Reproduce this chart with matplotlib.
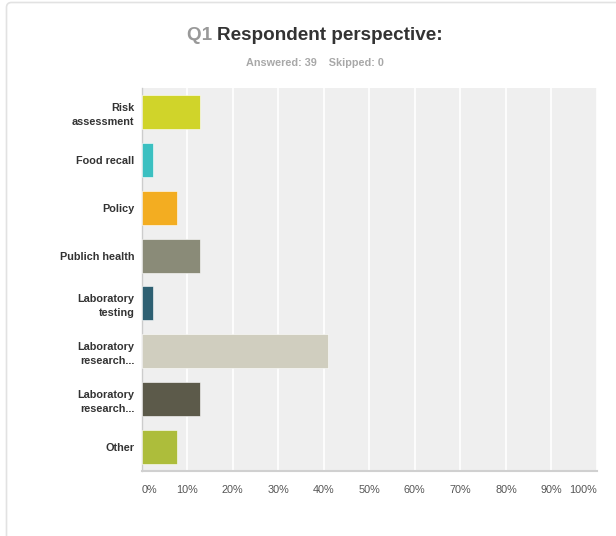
import matplotlib
matplotlib.use("Agg")
import matplotlib.pyplot as plt
from matplotlib.patches import FancyBboxPatch
from matplotlib.transforms import IdentityTransform
from matplotlib.ticker import FuncFormatter

plt.rcParams['font.family'] = ['Liberation Sans', 'DejaVu Sans']

# Survey question Q1: share of the 39 respondents per perspective
categories = [
    "Risk\nassessment",
    "Food recall",
    "Policy",
    "Publich health",
    "Laboratory\ntesting",
    "Laboratory\nresearch...",
    "Laboratory\nresearch...",
    "Other",
]
percentages = [12.82, 2.56, 7.69, 12.82, 2.56, 41.03, 12.82, 7.69]
bar_colors = ["#d0d42a", "#3bc0c1", "#f3ad21", "#8a8b78", "#2e6072",
              "#d0cebf", "#5c5a4a", "#adbd3b"]
x_ticks = [0, 10, 20, 30, 40, 50, 60, 70, 80, 90, 100]
answered = 39
skipped = 0

W, H = 616, 536
fig = plt.figure(figsize=(W / 100, H / 100), dpi=100)
fig.patch.set_facecolor("white")

# Card outline with a rounded top-left corner
card = FancyBboxPatch((6.5, -50), 800, H - 2.5 + 50,
                      boxstyle="round,pad=0,rounding_size=5",
                      transform=IdentityTransform(), facecolor="none",
                      edgecolor="#e2e2e2", linewidth=1.2, clip_on=False)
fig.add_artist(card)

left, right, top, bottom = 141.5, 597, 88, 471
ax = fig.add_axes([left / W, 1 - bottom / H, (right - left) / W, (bottom - top) / H])
ax.set_facecolor("#efefef")

y = list(range(len(categories)))
ax.barh(y, percentages, height=0.71, color=bar_colors,
        edgecolor="white", linewidth=0.4, zorder=3)
ax.set_ylim(len(categories) - 0.5, -0.5)
ax.set_xlim(0, 100)

ax.set_xticks(x_ticks)
ax.xaxis.set_major_formatter(FuncFormatter(lambda v, p: f"{int(v)}%"))
ax.grid(axis="x", color="white", linewidth=1.2, zorder=1)
ax.set_axisbelow(True)

for s in ["top", "right"]:
    ax.spines[s].set_visible(False)
ax.spines["left"].set_color("#cccccc")
ax.spines["bottom"].set_color("#d0d0d0")
ax.spines["left"].set_linewidth(1.0)
ax.spines["bottom"].set_linewidth(1.5)

ax.tick_params(axis="x", length=0, pad=10, labelsize=7.8, labelcolor="#555555")
ax.tick_params(axis="y", length=0, pad=5, labelsize=7.8, labelcolor="#333333")
ax.set_yticks(y)
ax.set_yticklabels(categories, fontweight="bold", linespacing=1.45)
for lbl in ax.get_yticklabels():
    lbl.set_horizontalalignment("right")
    lbl.set_multialignment("right")

xl = ax.get_xticklabels()
xl[0].set_horizontalalignment("left")
xl[-1].set_horizontalalignment("right")

# Title: grey question number followed by dark bold heading
fig.canvas.draw()
r = fig.canvas.get_renderer()
ty = 1 - 35 / H
t1 = fig.text(0, ty, "Q1 ", fontsize=13.6, fontweight="bold", color="#999999", va="center")
t2 = fig.text(0, ty, "Respondent perspective:", fontsize=13.6, fontweight="bold",
              color="#333333", va="center")
w1 = t1.get_window_extent(r).width
w2 = t2.get_window_extent(r).width
x0 = 315 - (w1 + w2) / 2
t1.set_x(x0 / W)
t2.set_x((x0 + w1) / W)

fig.text(315 / W, 1 - 63 / H,
         f"Answered: {answered}    Skipped: {skipped}",
         fontsize=7.8, fontweight="bold", color="#a8a8a8", ha="center", va="center")

fig.savefig("out.png", dpi=100)
